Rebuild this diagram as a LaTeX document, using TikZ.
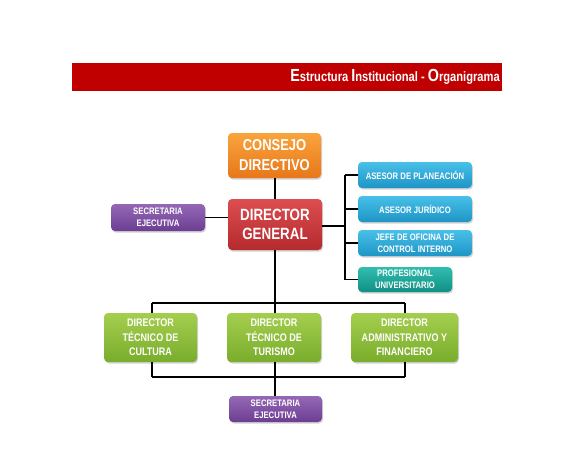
\documentclass[tikz,border=0pt]{standalone}
\usepackage{fontspec}
\setmainfont{Liberation Sans}[FakeStretch=0.82]
\usetikzlibrary{shadows}
\definecolor{banner}{HTML}{C00000}
\definecolor{orT}{HTML}{F9A43C}\definecolor{orB}{HTML}{E8771A}
\definecolor{rdT}{HTML}{DC4E50}\definecolor{rdB}{HTML}{B52A2E}
\definecolor{puT}{HTML}{9568B6}\definecolor{puB}{HTML}{6C3E92}
\definecolor{blT}{HTML}{48C0E8}\definecolor{blB}{HTML}{1E95C6}
\definecolor{tlT}{HTML}{30BDAF}\definecolor{tlB}{HTML}{119085}
\definecolor{grT}{HTML}{A5CE4E}\definecolor{grB}{HTML}{79AD2C}
\tikzset{
  box/.style={rounded corners=4pt, inner sep=0pt, align=center, text=white,
    font=\bfseries, drop shadow={shadow xshift=1pt, shadow yshift=-1.5pt, opacity=0.35}},
  big/.style={box, font=\bfseries\fontsize{15.8}{20}\selectfont},
  mid/.style={box, font=\bfseries\fontsize{11}{14.5}\selectfont},
  small/.style={box, font=\bfseries\fontsize{9.4}{12}\selectfont},
  orbox/.style={top color=orT, bottom color=orB},
  rdbox/.style={top color=rdT, bottom color=rdB},
  pubox/.style={top color=puT, bottom color=puB},
  blbox/.style={top color=blT, bottom color=blB},
  tlbox/.style={top color=tlT, bottom color=tlB},
  grbox/.style={top color=grT, bottom color=grB},
  link/.style={draw=black, line width=1.6pt}
}
\begin{document}
\begin{tikzpicture}[x=1pt,y=-1pt]
\useasboundingbox[fill=white] (0,0) rectangle (588,452);
% banner
\fill[banner] (72,63) rectangle (502,91);
\node[anchor=east, text=white, font=\bfseries, inner sep=0pt] (title) at (500,77)
  {{\fontsize{17.5}{17}\selectfont E}{\fontsize{13.6}{13}\selectfont structura }{\fontsize{17.5}{17}\selectfont I}{\fontsize{13.6}{13}\selectfont nstitucional - }{\fontsize{17.5}{17}\selectfont O}{\fontsize{13.6}{13}\selectfont rganigrama}};
% connector points
\coordinate (rb) at (345,226);
\coordinate (tb) at (345,175);
\coordinate (bb) at (345,279.5);
\coordinate (topL) at (152,303);
\coordinate (topR) at (405,303);
\coordinate (topM) at (275,303);
\coordinate (botL) at (152,377);
\coordinate (botR) at (405,377);
\coordinate (botM) at (275,377);
% nodes
\node[big, orbox, minimum width=93pt, minimum height=45pt] (cd) at (274.5,155.5) {CONSEJO\\DIRECTIVO};
\node[big, rdbox, minimum width=94pt, minimum height=51pt, font=\bfseries\fontsize{16.3}{19}\selectfont] (dg) at (275,224.5) {DIRECTOR\\GENERAL};
\node[small, pubox, minimum width=94pt, minimum height=27pt] (s1) at (158,217.5) {SECRETARIA\\EJECUTIVA};
\node[small, blbox, minimum width=114pt, minimum height=26pt] (a1) at (415,175) {ASESOR DE PLANEACIÓN};
\node[small, blbox, minimum width=114pt, minimum height=26pt] (a2) at (415,209) {ASESOR JURÍDICO};
\node[small, blbox, minimum width=114pt, minimum height=26pt] (a3) at (415,243) {JEFE DE OFICINA DE\\CONTROL INTERNO};
\node[small, tlbox, minimum width=94pt, minimum height=25pt] (a4) at (405,279.5) {PROFESIONAL\\UNIVERSITARIO};
\node[mid, grbox, minimum width=93pt, minimum height=49pt] (g1) at (150.5,337.5) {DIRECTOR\\TÉCNICO DE\\CULTURA};
\node[mid, grbox, minimum width=94pt, minimum height=49pt] (g2) at (274,337.5) {DIRECTOR\\TÉCNICO DE\\TURISMO};
\node[mid, grbox, minimum width=107pt, minimum height=49pt] (g3) at (404.5,337.5) {DIRECTOR\\ADMINISTRATIVO Y\\FINANCIERO};
\node[small, pubox, minimum width=93pt, minimum height=26pt] (s2) at (275.5,409) {SECRETARIA\\EJECUTIVA};
% links
\draw[link] (dg.north) -- (dg.north |- cd.south);
\draw[link] (s1.east) -- (s1.east -| dg.west);
\draw[link] (rb -| dg.east) -- (rb);
\draw[link] (tb) -- (bb);
\draw[link] (tb) -- (a1.west);
\draw[link] (a2.west -| tb) -- (a2.west);
\draw[link] (a3.west -| tb) -- (a3.west);
\draw[link] (bb) -- (a4.west);
\draw[link] (dg.south -| topM) -- (topM);
\draw[link] (topL) -- (topR);
\draw[link] (topL) -- (topL |- g1.north);
\draw[link] (topM) -- (topM |- g2.north);
\draw[link] (topR) -- (topR |- g3.north);
\draw[link] (botL) -- (botR);
\draw[link] (botL |- g1.south) -- (botL);
\draw[link] (botM |- g2.south) -- (botM);
\draw[link] (botR |- g3.south) -- (botR);
\draw[link] (botM) -- (botM |- s2.north);
\end{tikzpicture}
\end{document}
